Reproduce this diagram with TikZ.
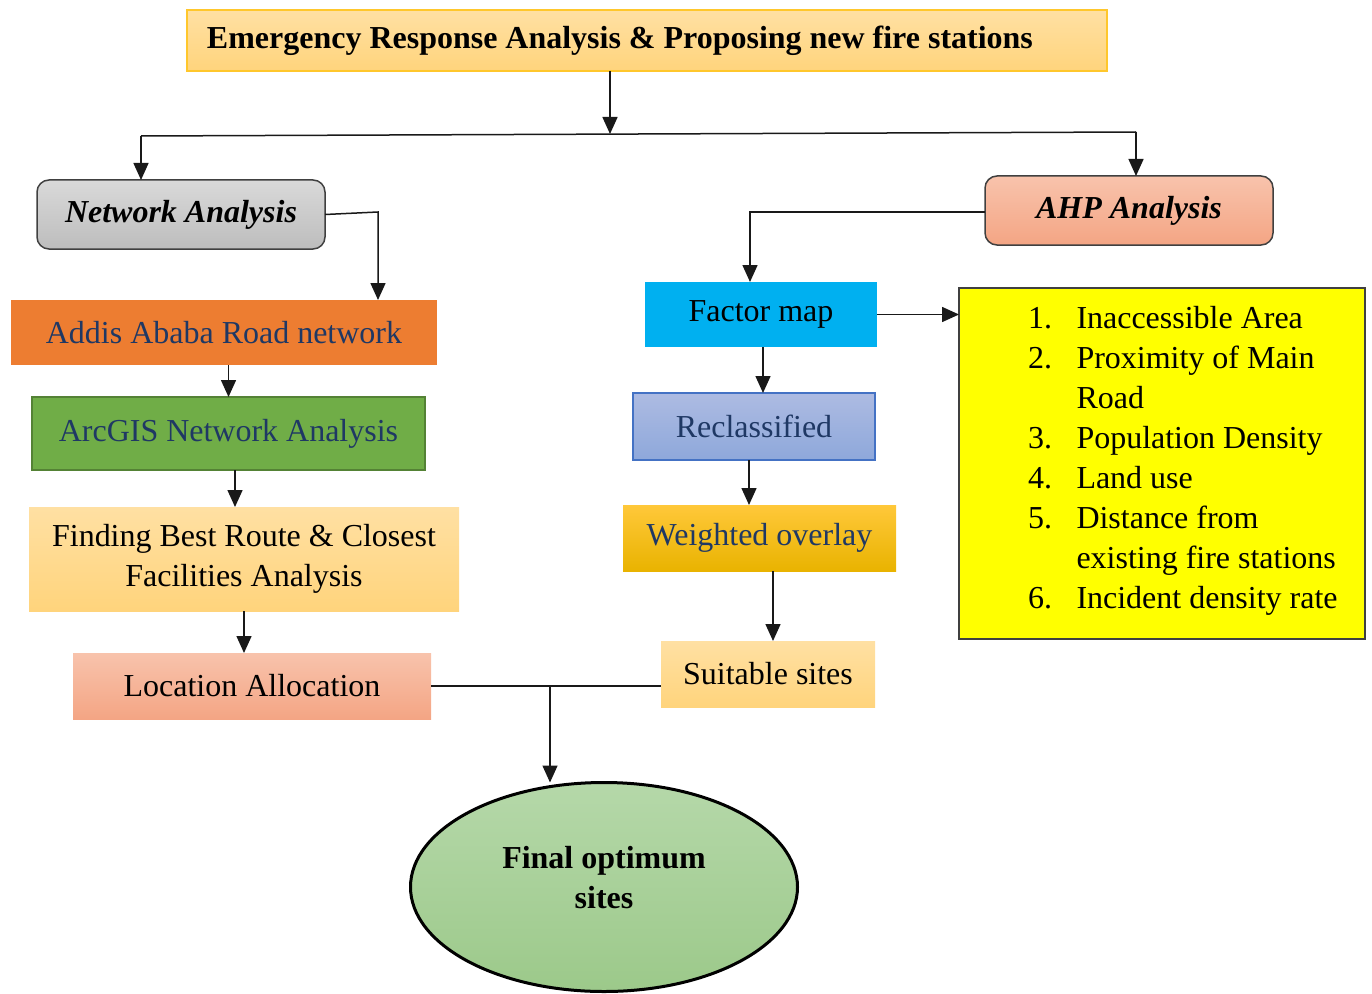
\documentclass[tikz,border=0pt]{standalone}
\usepackage{fontspec}
\setmainfont{Liberation Serif}
\usetikzlibrary{arrows.meta,shapes.geometric}
\definecolor{navy}{HTML}{1F3864}
\definecolor{titleT}{HTML}{FFE0A3}
\definecolor{titleB}{HTML}{FFD47C}
\definecolor{titleD}{HTML}{FFC72C}
\definecolor{grayT}{HTML}{D9D9D9}
\definecolor{grayB}{HTML}{BDBDBD}
\definecolor{salT}{HTML}{F8C3AC}
\definecolor{salB}{HTML}{F4A584}
\definecolor{orangeF}{HTML}{ED7D31}
\definecolor{greenF}{HTML}{70AD47}
\definecolor{greenD}{HTML}{548235}
\definecolor{cyanF}{HTML}{00B0F0}
\definecolor{blueT}{HTML}{ADBBE2}
\definecolor{blueB}{HTML}{8EA8DB}
\definecolor{blueD}{HTML}{4472C4}
\definecolor{goldT}{HTML}{FFC83A}
\definecolor{goldB}{HTML}{E9B300}
\definecolor{ellT}{HTML}{B5D8A9}
\definecolor{ellB}{HTML}{9CC98A}
\definecolor{listY}{HTML}{FFFF00}
\newcommand{\fsz}{\fontsize{18.2}{22.8}\selectfont}
\newcommand{\mkbox}[7]{\node[#6, minimum width={(#4-#2)*0.2mm}, minimum height={(#5-#3)*0.2mm}] (#1) at ({(#2+#4)/2},{(#3+#5)/2}) {#7};}
\begin{document}
\begin{tikzpicture}[x=0.2mm,y=-0.2mm,
  every node/.style={font=\fsz, inner sep=0pt, outer sep=0pt, align=center},
  arr/.style={draw=black!90, line width=0.3mm, -{Triangle[length=3.4mm,width=3.0mm]}},
  conn/.style={draw=black!90, line width=0.3mm},
  titlebox/.style={draw=titleD, line width=0.3mm, top color=titleT, bottom color=titleB, font=\fsz\bfseries, inner xsep=4mm, text width=176mm, align=flush left},
  grayrnd/.style={draw=black!75, line width=0.3mm, rounded corners=2.4mm, top color=grayT, bottom color=grayB, font=\fsz\bfseries\itshape},
  salrnd/.style={draw=black!75, line width=0.3mm, rounded corners=2.4mm, top color=salT, bottom color=salB, font=\fsz\bfseries\itshape},
  orangebox/.style={fill=orangeF, text=navy},
  greenbox/.style={fill=greenF, draw=greenD, line width=0.4mm, text=navy},
  lightbox/.style={top color=titleT, bottom color=titleB},
  salbox/.style={top color=salT, bottom color=salB},
  cyanbox/.style={fill=cyanF},
  bluebox/.style={draw=blueD, line width=0.25mm, top color=blueT, bottom color=blueB, text=navy},
  goldbox/.style={top color=goldT, bottom color=goldB, text=navy},
  listbox/.style={fill=listY, draw=black!75, line width=0.3mm},
  finalell/.style={ellipse, draw=black, line width=0.6mm, top color=ellT, bottom color=ellB, font=\fsz\bfseries, text depth=4mm},
]
\useasboundingbox (0,0) rectangle (1372,993);

% left column
\mkbox{title}{187}{10}{1107}{71}{titlebox}{Emergency Response Analysis \& Proposing new fire stations}
\mkbox{na}{37}{180}{325}{249}{grayrnd}{Network Analysis}
\mkbox{addis}{11}{300}{437}{365}{orangebox}{Addis Ababa Road network}
\mkbox{arc}{32}{397}{425}{470}{greenbox}{ArcGIS Network Analysis}
\mkbox{find}{29}{507}{459}{611}{lightbox}{Finding Best Route \& Closest\\Facilities Analysis}
\mkbox{loc}{73}{653}{431}{719}{salbox}{Location Allocation}

% right column
\mkbox{ahp}{985}{176}{1273}{245}{salrnd}{AHP Analysis}
\mkbox{fm}{645}{282}{877}{347}{cyanbox}{Factor map}
\mkbox{recl}{633}{393}{875}{460}{bluebox}{Reclassified}
\mkbox{wo}{623}{505}{896}{571}{goldbox}{Weighted overlay}
\mkbox{suit}{661}{641}{875}{707}{lightbox}{Suitable sites}
\mkbox{list}{959}{288}{1365}{639}{listbox}{}
\node[anchor=base west, align=left] (listtxt) at (1028,328) {\begin{tabular}[t]{@{}r@{\hspace{4.9mm}}l@{}}
1. & Inaccessible Area\\
2. & Proximity of Main\\
   & Road\\
3. & Population Density\\
4. & Land use\\
5. & Distance from\\
   & existing fire stations\\
6. & Incident density rate
\end{tabular}};

% final ellipse
\node[finalell, minimum width=77.4mm, minimum height=41.8mm] (fin) at (604,887) {Final optimum\\sites};

% connectors
\coordinate (jt) at (610,134);
\coordinate (jl) at (141,136);
\coordinate (jr) at (1136,132);
\draw[arr] (title.south -| jt) -- (jt);
\draw[conn] (jl) -- (jr);
\draw[arr] (jl) -- (jl |- na.north);
\draw[arr] (jr) -- (jr |- ahp.north);

\coordinate (cn) at (378,212);
\draw[arr] (na.east) -- (cn) -- (cn |- addis.north);
\draw[arr] (addis.south -| arc.north) -- (arc.north);
\coordinate (ca) at (235,0);
\draw[arr] (arc.south -| ca) -- (ca |- find.north);
\draw[arr] (find.south) -- (find.south |- loc.north);

\coordinate (jb) at (550,0);
\draw[conn] (loc.east) -- (suit.west |- loc.east);
\draw[arr] (jb |- loc.east) -- (jb |- fin.north);

\coordinate (cf) at (750,212);
\draw[arr] (ahp.west |- cf) -- (cf) -- (cf |- fm.north);
\draw[arr] (fm.east) -- (list.west |- fm.east);
\coordinate (cr) at (763,0);
\draw[arr] (fm.south -| cr) -- (cr |- recl.north);
\coordinate (cw) at (749,0);
\draw[arr] (recl.south -| cw) -- (cw |- wo.north);
\coordinate (cs) at (773,0);
\draw[arr] (wo.south -| cs) -- (cs |- suit.north);
\end{tikzpicture}
\end{document}
